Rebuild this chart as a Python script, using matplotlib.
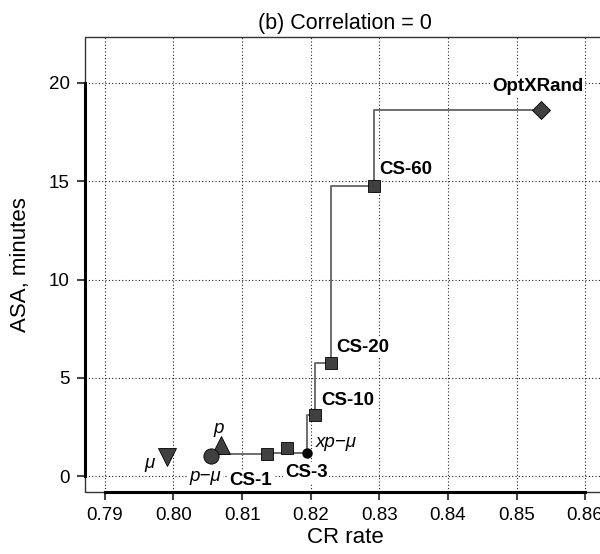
import matplotlib
matplotlib.use("Agg")
import matplotlib.pyplot as plt
from matplotlib.patches import Rectangle

plt.rcParams['font.family'] = ['Liberation Sans', 'DejaVu Sans']

# ---- data ----
mu_x, mu_y = [0.7990], [0.95]
p_x, p_y = [0.8069], [1.58]
pmu_x, pmu_y = [0.8055], [1.02]
cs_names = ['CS-1', 'CS-2', 'CS-10', 'CS-20', 'CS-60']
cs_x = [0.8137, 0.8165, 0.8206, 0.8230, 0.8292]
cs_y = [1.10, 1.44, 3.10, 5.74, 14.77]
xpmu_x, xpmu_y = [0.8195], [1.16]
opt_x, opt_y = [0.8535], [18.63]

# Pareto frontier (step line)
front_x = [pmu_x[0], cs_x[0], xpmu_x[0], cs_x[2], cs_x[3], cs_x[4], opt_x[0]]
front_y = [pmu_y[0], cs_y[0], xpmu_y[0], cs_y[2], cs_y[3], cs_y[4], opt_y[0]]

xticks = [0.79, 0.80, 0.81, 0.82, 0.83, 0.84, 0.85, 0.86]
xticklabels = ['0.79', '0.80', '0.81', '0.82', '0.83', '0.84', '0.85', '0.86']
yticks = [0, 5, 10, 15, 20]

# labels: (text, anchor x, anchor y, offset px, style)
labels = [
    ('μ', mu_x[0], mu_y[0], (-17, -6), 'italic'),
    ('p', p_x[0], p_y[0], (-2, 17), 'italic'),
    ('p−μ', pmu_x[0], pmu_y[0], (-6, -20), 'italic'),
    ('CS-1', cs_x[0], cs_y[0], (-17, -26), 'bold'),
    ('CS-3', xpmu_x[0], xpmu_y[0], (-1, -19), 'bold'),
    ('xp−μ', xpmu_x[0], xpmu_y[0], (29, 11), 'italic'),
    ('CS-10', cs_x[2], cs_y[2], (33, 15), 'bold'),
    ('CS-20', cs_x[3], cs_y[3], (31, 16), 'bold'),
    ('CS-60', cs_x[4], cs_y[4], (32, 16), 'bold'),
    ('OptXRand', opt_x[0], opt_y[0], (-3, 23), 'bold'),
]

fig = plt.figure(figsize=(6.0, 5.54), dpi=100)
ax = fig.add_axes([85/600, 62/554, 520/600, 455/554])
ax.set_xlim(0.7871, 0.8629)
ax.set_ylim(-0.81, 22.34)

ax.set_xticks(xticks)
ax.set_xticklabels(xticklabels)
ax.set_yticks(yticks)
ax.grid(True, color='#222222', linestyle=(0, (1, 2)), linewidth=0.8)
ax.set_axisbelow(True)

mcol = '#404040'
ax.plot(front_x, front_y, drawstyle='steps-pre', color='#6e6e6e', lw=1.4, zorder=3)
ax.plot(mu_x, mu_y, 'v', ms=12.5, color=mcol, mec='black', mew=0.6, zorder=4)
ax.plot(p_x, p_y, '^', ms=12.5, color=mcol, mec='black', mew=0.6, zorder=4)
ax.plot(pmu_x, pmu_y, 'o', ms=11, color=mcol, mec='black', mew=0.6, zorder=4)
ax.plot(cs_x, cs_y, 's', ms=8.6, color=mcol, mec='black', mew=0.6, zorder=4)
ax.plot(xpmu_x, xpmu_y, 'o', ms=6.5, color='black', mec='black', zorder=5)
ax.plot(opt_x, opt_y, 'D', ms=9.5, color=mcol, mec='black', mew=0.6, zorder=4)

for txt, x, y, (dx, dy), style in labels:
    kw = dict(fontweight='bold') if style == 'bold' else dict(fontstyle='italic')
    ax.annotate(txt, (x, y), xytext=(dx * 0.72, dy * 0.72), textcoords='offset points',
                ha='center', va='center', fontsize=13.5,
                bbox=dict(boxstyle='square,pad=0.1', fc='white', ec='none'),
                zorder=2.5, **kw)

# spines: thin box, thick axis lines between first/last ticks
for s in ['top', 'right']:
    ax.spines[s].set_visible(False)
ax.spines['left'].set_bounds(0, 20)
ax.spines['bottom'].set_bounds(0.79, 0.86)
ax.spines['left'].set_linewidth(2.2)
ax.spines['bottom'].set_linewidth(2.2)
box = Rectangle((0, 0), 1, 1, transform=ax.transAxes, fill=False,
                ec='#333333', lw=1.0, zorder=1, clip_on=False)
ax.add_patch(box)

ax.tick_params(direction='out', length=6, width=1.5, color='#444444',
               labelsize=13.5, pad=5)
ax.set_xlabel('CR rate', fontsize=16, labelpad=2)
ax.set_ylabel('ASA, minutes', fontsize=16, labelpad=13)
ax.set_title('(b) Correlation = 0', fontsize=15.5, pad=6)

fig.savefig('out.png', dpi=100)
